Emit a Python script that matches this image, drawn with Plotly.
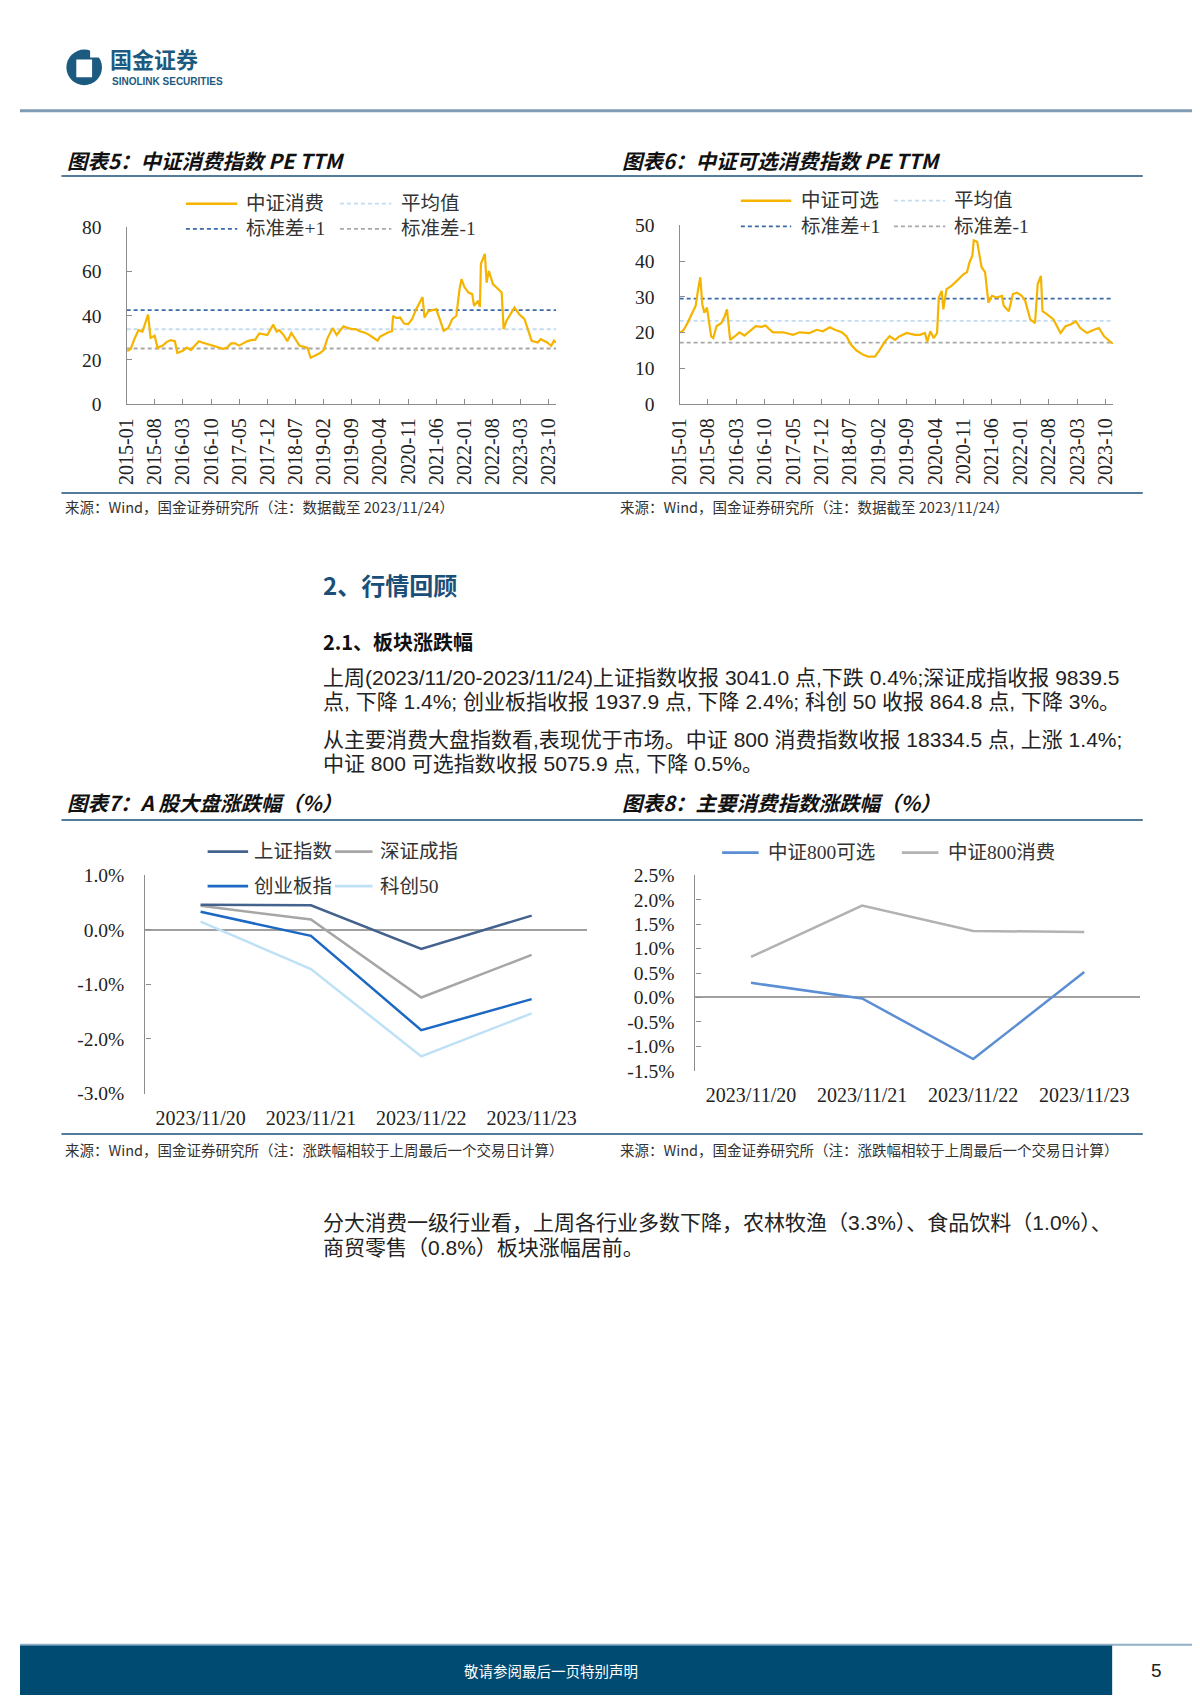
import plotly.graph_objects as go

W, H = 1200, 1698

# ---------------- data ----------------
pe5_dates = ["2015-01-05", "2015-02-01", "2015-03-01", "2015-04-01", "2015-05-01", "2015-05-20", "2015-06-12",
             "2015-07-01", "2015-08-01", "2015-08-25", "2015-09-01", "2015-10-01", "2015-11-01", "2015-12-01",
             "2016-01-01", "2016-01-20", "2016-02-01", "2016-03-01", "2016-04-01", "2016-05-01", "2016-06-01",
             "2016-07-01", "2016-08-01", "2016-09-01", "2016-10-01", "2016-11-01", "2016-12-01", "2017-01-01",
             "2017-02-01", "2017-03-01", "2017-04-01", "2017-05-01", "2017-06-01", "2017-07-01", "2017-08-01",
             "2017-09-01", "2017-10-01", "2017-11-01", "2017-12-01", "2018-01-15", "2018-02-10", "2018-03-01",
             "2018-04-01", "2018-05-01", "2018-06-01", "2018-07-01", "2018-08-01", "2018-09-01", "2018-10-01",
             "2018-10-25", "2018-12-01", "2019-01-01", "2019-02-01", "2019-03-01", "2019-04-10", "2019-05-10",
             "2019-06-01", "2019-07-01", "2019-08-01", "2019-09-01", "2019-10-01", "2019-11-01", "2019-12-01",
             "2020-01-01", "2020-02-01", "2020-03-15", "2020-04-01", "2020-05-01", "2020-06-01", "2020-07-01",
             "2020-07-10", "2020-08-01", "2020-09-01", "2020-10-01", "2020-11-01", "2020-12-01", "2021-01-01",
             "2021-02-18", "2021-03-05", "2021-04-01", "2021-05-01", "2021-06-01", "2021-07-01", "2021-07-28",
             "2021-09-01", "2021-10-01", "2021-11-01", "2021-11-25", "2021-12-10", "2022-01-01", "2022-02-01",
             "2022-03-01", "2022-03-15", "2022-04-15", "2022-04-28", "2022-05-06", "2022-06-05", "2022-06-18",
             "2022-07-05", "2022-08-05", "2022-09-15", "2022-10-10", "2022-10-25", "2022-11-15", "2023-01-15",
             "2023-02-20", "2023-04-01", "2023-04-25", "2023-05-25", "2023-07-10", "2023-08-01", "2023-09-20",
             "2023-10-20", "2023-11-10", "2023-11-24"]
pe5_values = [24.0, 25.0, 29.5, 33.5, 32.8, 36.0, 40.5,
              30.0, 31.0, 25.0, 25.8, 26.5, 28.2, 29.0,
              28.5, 23.2, 23.5, 24.2, 25.6, 24.5, 26.5,
              28.5, 27.8, 27.2, 26.5, 26.0, 25.3, 25.0,
              25.6, 27.5, 27.5, 26.5, 27.5, 28.5, 29.0,
              29.2, 32.0, 31.5, 31.3, 36.0, 32.8, 33.5,
              31.5, 28.5, 32.2, 29.5, 26.5, 26.0, 25.5,
              21.0, 22.0, 23.0, 24.5, 29.8, 34.5, 31.3,
              33.0, 35.2, 34.5, 34.0, 34.0, 33.0, 32.5,
              31.7, 30.5, 28.7, 30.5, 31.5, 32.4, 33.0,
              40.0, 39.0, 39.2, 36.5, 36.2, 38.5, 43.0,
              48.5, 39.2, 42.0, 42.5, 43.0, 38.0, 33.2,
              34.5, 38.5, 40.0, 52.0, 56.6, 53.0, 50.5,
              49.8, 44.5, 46.8, 44.0, 63.5, 68.0, 55.0,
              60.3, 54.3, 52.0, 50.5, 34.0, 37.7, 43.7,
              40.7, 38.5, 34.0, 28.7, 27.9, 29.4, 27.9,
              26.4, 28.7, 27.8]
pe5_mean, pe5_plus1, pe5_minus1 = 33.9, 42.6, 25.2

pe6_dates = ["2015-01-05", "2015-02-01", "2015-03-01", "2015-04-01", "2015-05-01", "2015-05-20", "2015-06-05",
             "2015-06-20", "2015-07-05", "2015-07-25", "2015-08-25", "2015-09-10", "2015-10-05", "2015-11-10",
             "2015-12-05", "2015-12-22", "2016-01-15", "2016-02-20", "2016-03-25", "2016-05-01", "2016-06-10",
             "2016-07-25", "2016-09-05", "2016-10-05", "2016-12-01", "2017-02-15", "2017-05-01", "2017-06-20",
             "2017-09-01", "2017-10-25", "2017-12-10", "2018-02-01", "2018-03-10", "2018-05-01", "2018-06-05",
             "2018-07-10", "2018-08-20", "2018-10-10", "2018-11-15", "2019-01-05", "2019-02-10", "2019-03-20",
             "2019-04-25", "2019-06-05", "2019-07-10", "2019-09-01", "2019-11-01", "2019-12-10", "2020-01-15",
             "2020-02-01", "2020-02-25", "2020-03-20", "2020-04-15", "2020-04-28", "2020-05-20", "2020-06-01",
             "2020-06-25", "2020-08-01", "2020-09-10", "2020-11-01", "2020-11-25", "2020-12-15", "2021-01-05",
             "2021-01-15", "2021-02-10", "2021-03-01", "2021-03-15", "2021-04-10", "2021-04-25", "2021-05-05",
             "2021-06-01", "2021-07-05", "2021-08-15", "2021-08-28", "2021-10-05", "2021-11-05", "2021-12-05",
             "2022-01-10", "2022-02-05", "2022-03-15", "2022-04-20", "2022-05-10", "2022-06-03", "2022-06-15",
             "2022-07-20", "2022-09-05", "2022-10-28", "2022-12-05", "2023-01-12", "2023-02-20", "2023-03-25",
             "2023-05-15", "2023-07-05", "2023-08-12", "2023-09-20", "2023-11-05", "2023-11-24"]
pe6_values = [20.0, 20.8, 22.7, 25.1, 27.5, 32.2, 35.5,
              27.9, 25.6, 27.0, 19.0, 18.5, 21.8, 22.7,
              24.6, 26.5, 18.0, 19.0, 20.1, 19.2, 20.4,
              21.8, 21.6, 22.0, 20.1, 20.1, 19.4, 20.1,
              19.9, 20.8, 20.4, 21.5, 20.8, 20.1, 19.0,
              16.6, 15.0, 13.8, 13.3, 13.3, 15.2, 17.5,
              19.0, 18.0, 19.0, 19.9, 19.4, 19.4, 19.9,
              17.5, 20.4, 18.5, 19.9, 29.8, 31.7, 26.5,
              32.2, 33.1, 34.5, 36.4, 36.9, 39.7, 41.6,
              45.8, 45.4, 41.6, 38.3, 36.9, 32.2, 28.4,
              30.3, 29.8, 30.3, 27.5, 26.0, 30.8, 31.2,
              30.3, 28.9, 23.7, 22.7, 33.6, 35.9, 26.0,
              25.1, 23.7, 19.9, 21.8, 22.3, 23.2, 21.3,
              19.9, 20.8, 21.3, 19.0, 17.5, 16.9]
pe6_mean, pe6_plus1, pe6_minus1 = 23.3, 29.5, 17.2

pe_tick_labels = ["2015-01", "2015-08", "2016-03", "2016-10", "2017-05", "2017-12", "2018-07", "2019-02",
                  "2019-09", "2020-04", "2020-11", "2021-06", "2022-01", "2022-08", "2023-03", "2023-10"]
pe_axis_start, pe_axis_end = "2015-01-01", "2023-11-27"

days = ["2023/11/20", "2023/11/21", "2023/11/22", "2023/11/23"]
sh_composite = [0.46, 0.45, -0.35, 0.26]
sz_component = [0.44, 0.19, -1.24, -0.46]
chinext = [0.33, -0.11, -1.84, -1.27]
star50 = [0.15, -0.72, -2.32, -1.53]
csi800_discretionary = [0.30, -0.02, -1.26, 0.52]
csi800_consumer = [0.83, 1.88, 1.36, 1.34]
fig7_tick_labels = ["1.0%", "0.0%", "-1.0%", "-2.0%", "-3.0%"]
fig8_tick_labels = ["2.5%", "2.0%", "1.5%", "1.0%", "0.5%", "0.0%", "-0.5%", "-1.0%", "-1.5%"]

# ---------------- styling ----------------
SERIF = "Liberation Serif, Noto Sans CJK SC"
CJK = "Noto Sans CJK SC"
SANS = "Liberation Sans, Noto Sans CJK SC"
GOLD = "#F5B400"
C_MEAN = "#C3DBF0"
C_UP = "#3A6BA8"
C_DN = "#A8A8A8"
AX = "#8C8C8C"
NAVY = "#1B4F78"
DASH = "4px,3px"
TICK = 19.5
LEG = 19.5
TITLE = 20.5
SRC = 14.5
PARA = 21


def px(x):
    return x / W


def py(y):
    return 1 - y / H


fig = go.Figure()
shapes = []
annotations = []


def hline(x0, x1, y, color, width, dash=None):
    d = dict(type="line", xref="paper", yref="paper", x0=px(x0), x1=px(x1), y0=py(y), y1=py(y),
             line=dict(color=color, width=width))
    if dash:
        d["line"]["dash"] = dash
    shapes.append(d)


def text(t, x, y, size, color="#222", family=CJK, xanchor="left"):
    annotations.append(dict(text=t, x=px(x), y=py(y), xref="paper", yref="paper", xanchor=xanchor,
                            yanchor="middle", showarrow=False,
                            font=dict(family=family, size=size, color=color)))


def legend_item(x0, x1, y, color, width, dash, label, tx):
    hline(x0, x1, y, color, width, dash)
    text(label, tx, y, LEG, "#333", SERIF)


# ---------------- PE charts ----------------
def pe_chart(n, dom_x, dom_y, dates, vals, mean, plus1, minus1, ymax, dtick):
    xid = "x" if n == 1 else f"x{n}"
    yid = "y" if n == 1 else f"y{n}"
    for v, c in [(mean, C_MEAN), (plus1, C_UP), (minus1, C_DN)]:
        fig.add_trace(go.Scatter(x=[pe_axis_start, pe_axis_end], y=[v, v], xaxis=xid, yaxis=yid,
                                 mode="lines", line=dict(color=c, width=1.8, dash=DASH),
                                 hoverinfo="skip", showlegend=False))
    fig.add_trace(go.Scatter(x=dates, y=vals, xaxis=xid, yaxis=yid, mode="lines",
                             line=dict(color=GOLD, width=2.2), showlegend=False))
    xname = "xaxis" if n == 1 else f"xaxis{n}"
    yname = "yaxis" if n == 1 else f"yaxis{n}"
    fig.layout[xname] = dict(domain=dom_x, anchor=yid, type="date", range=[pe_axis_start, pe_axis_end],
                             tickmode="array", tickvals=[t + "-01" for t in pe_tick_labels],
                             ticktext=pe_tick_labels, tickangle=-90, ticks="inside", ticklen=5,
                             tickcolor=AX, showline=True, linecolor=AX, linewidth=1.3, showgrid=False,
                             zeroline=False, tickfont=dict(family=SERIF, size=20, color="#222"),
                             ticklabelstandoff=5)
    fig.layout[yname] = dict(domain=dom_y, anchor=xid, range=[0, ymax], dtick=dtick, tick0=0,
                             ticks="inside", ticklen=5, tickcolor=AX, showline=True, linecolor=AX,
                             linewidth=1.3, showgrid=False, zeroline=False,
                             tickfont=dict(family=SERIF, size=TICK, color="#222"), ticklabelstandoff=20)


pe_chart(1, [px(108), px(543)], [py(391), py(212)], pe5_dates, pe5_values,
         pe5_mean, pe5_plus1, pe5_minus1, 80, 20)
pe_chart(2, [px(668), px(1107)], [py(391), py(210)], pe6_dates, pe6_values,
         pe6_mean, pe6_plus1, pe6_minus1, 50, 10)

# legends for PE charts
legend_item(168, 220, 188, GOLD, 2.5, None, "中证消费", 227)
legend_item(324, 376, 188, C_MEAN, 1.8, DASH, "平均值", 384)
legend_item(168, 220, 213.5, C_UP, 1.8, DASH, "标准差+1", 227)
legend_item(324, 376, 213.5, C_DN, 1.8, DASH, "标准差-1", 384)

legend_item(730, 781, 185, GOLD, 2.5, None, "中证可选", 789)
legend_item(885, 937, 185, C_MEAN, 1.8, DASH, "平均值", 944)
legend_item(730, 781, 211, C_UP, 1.8, DASH, "标准差+1", 789)
legend_item(885, 937, 211, C_DN, 1.8, DASH, "标准差-1", 944)


# ---------------- daily change charts ----------------
def pct_chart(n, zero_axis, dom_x, dom_y, tick_labels, series):
    xid, yid = f"x{n}", f"y{n}"
    tickvals = [float(t.rstrip("%")) for t in tick_labels]
    lo, hi = min(tickvals), max(tickvals)
    for vals, color, width in series:
        fig.add_trace(go.Scatter(x=days, y=vals, xaxis=xid, yaxis=yid, mode="lines",
                                 line=dict(color=color, width=width), showlegend=False))
    fig.layout[f"xaxis{n}"] = dict(domain=dom_x, anchor=yid, type="category", range=[-0.5, len(days) - 0.5],
                                   showline=False, ticks="", showgrid=False, zeroline=False,
                                   tickfont=dict(family=SERIF, size=20, color="#222"), ticklabelstandoff=10)
    fig.layout[f"yaxis{n}"] = dict(domain=dom_y, anchor=xid, range=[lo, hi], tickmode="array",
                                   tickvals=tickvals, ticktext=tick_labels, ticks="inside", ticklen=5,
                                   tickcolor=AX, showline=True, linecolor=AX, linewidth=1.3, showgrid=False,
                                   zeroline=True, zerolinecolor="#A0A0A0", zerolinewidth=1.6,
                                   tickfont=dict(family=SERIF, size=TICK, color="#222"), ticklabelstandoff=16)
    pos = dom_y[0] + (0 - lo) / (hi - lo) * (dom_y[1] - dom_y[0])
    fig.layout[f"xaxis{zero_axis}"] = dict(overlaying=xid, anchor="free", position=pos, domain=dom_x,
                                           range=[-0.5, len(days) - 0.5], tickmode="array",
                                           tickvals=[i + 0.5 for i in range(len(days))], ticks="inside",
                                           ticklen=5, tickcolor="#A0A0A0", showticklabels=False,
                                           showline=True, linecolor="#A0A0A0", linewidth=1.6,
                                           showgrid=False, zeroline=False)


pct_chart(3, 5, [px(127), px(574)], [py(1089), py(868)], fig7_tick_labels,
          [(sz_component, "#A6A6A6", 2.5), (star50, "#BFE1F6", 2.5),
           (chinext, "#1C68C2", 2.5), (sh_composite, "#43628E", 2.5)])
pct_chart(4, 6, [px(684), px(1134)], [py(1066), py(868)], fig8_tick_labels,
          [(csi800_consumer, "#B2B2B2", 2.5), (csi800_discretionary, "#5B8ED3", 2.5)])

legend_item(190, 231, 844, "#43628E", 2.8, None, "上证指数", 235)
legend_item(319, 357, 844, "#A6A6A6", 2.8, None, "深证成指", 363)
legend_item(190, 231, 879, "#1C68C2", 2.8, None, "创业板指", 235)
legend_item(319, 357, 879, "#BFE1F6", 2.8, None, "科创50", 363)

legend_item(711, 748, 845, "#5B8ED3", 2.8, None, "中证800可选", 755)
legend_item(893, 930, 845, "#B2B2B2", 2.8, None, "中证800消费", 938)

# ---------------- page furniture ----------------
shapes.append(dict(type="circle", xref="paper", yref="paper", x0=px(47), x1=px(83), y0=py(68), y1=py(32),
                   fillcolor="#1D5A80", line=dict(width=0)))
shapes.append(dict(type="rect", xref="paper", yref="paper", x0=px(57), x1=px(73), y0=py(60), y1=py(42),
                   fillcolor="white", line=dict(width=0)))
shapes.append(dict(type="rect", xref="paper", yref="paper", x0=px(71), x1=px(84), y0=py(40), y1=py(30),
                   fillcolor="white", line=dict(width=0)))
text("<b>国金证券</b>", 89, 41, 22, "#1D5A80", CJK)
text("<b>SINOLINK SECURITIES</b>", 91, 64, 10, "#1D5A80", "Liberation Sans")
hline(0, 1200, 94, "#7F9CB4", 3)

text("<b><i>图表5：中证消费指数 PE TTM</i></b>", 46, 144, TITLE, "#111", CJK)
text("<b><i>图表6：中证可选消费指数 PE TTM</i></b>", 608, 144, TITLE, "#111", CJK)
hline(42, 1137, 160, NAVY, 1.6)
hline(42, 1137, 481, NAVY, 1.6)
text("来源：Wind，国金证券研究所（注：数据截至 2023/11/24）", 44, 495, SRC, "#333", CJK)
text("来源：Wind，国金证券研究所（注：数据截至 2023/11/24）", 606, 495, SRC, "#333", CJK)

text("<b>2、行情回顾</b>", 305, 574, 24, "#1B4F78", CJK)
text("<b>2.1、板块涨跌幅</b>", 305, 631, 20, "#111", CJK)
text("上周(2023/11/20-2023/11/24)上证指数收报 3041.0 点,下跌 0.4%;深证成指收报 9839.5", 305, 668, PARA, "#222", SANS)
text("点, 下降 1.4%; 创业板指收报 1937.9 点, 下降 2.4%; 科创 50 收报 864.8 点, 下降 3%。", 305, 692.5, PARA, "#222", SANS)
text("从主要消费大盘指数看,表现优于市场。中证 800 消费指数收报 18334.5 点, 上涨 1.4%;", 305, 731, PARA, "#222", SANS)
text("中证 800 可选指数收报 5075.9 点, 下降 0.5%。", 305, 755, PARA, "#222", SANS)

text("<b><i>图表7：A 股大盘涨跌幅（%）</i></b>", 46, 794, TITLE, "#111", CJK)
text("<b><i>图表8：主要消费指数涨跌幅（%）</i></b>", 608, 794, TITLE, "#111", CJK)
hline(42, 1137, 812, NAVY, 1.6)
hline(42, 1137, 1130, NAVY, 1.6)
text("来源：Wind，国金证券研究所（注：涨跌幅相较于上周最后一个交易日计算）", 44, 1146, SRC, "#333", CJK)
text("来源：Wind，国金证券研究所（注：涨跌幅相较于上周最后一个交易日计算）", 606, 1146, SRC, "#333", CJK)

text("分大消费一级行业看，上周各行业多数下降，农林牧渔（3.3%）、食品饮料（1.0%）、", 305, 1219.5, PARA, "#222", SANS)
text("商贸零售（0.8%）板块涨幅居前。", 305, 1245, PARA, "#222", SANS)

hline(0, 1200, 1647, "#8EB0C8", 2)
shapes.append(dict(type="rect", xref="paper", yref="paper", x0=0, x1=px(1106), y0=0, y1=py(1648),
                   fillcolor="#004B72", line=dict(width=0)))
text("敬请参阅最后一页特别声明", 538, 1673, 14.5, "white", CJK, xanchor="center")
text("5", 1151, 1673, 19, "#222", "Liberation Sans", xanchor="center")

fig.update_layout(width=W, height=H, margin=dict(l=0, r=0, t=0, b=0), autosize=False,
                  paper_bgcolor="white", plot_bgcolor="white", showlegend=False,
                  shapes=shapes, annotations=annotations, hovermode=False)

fig.write_html("out.html")
